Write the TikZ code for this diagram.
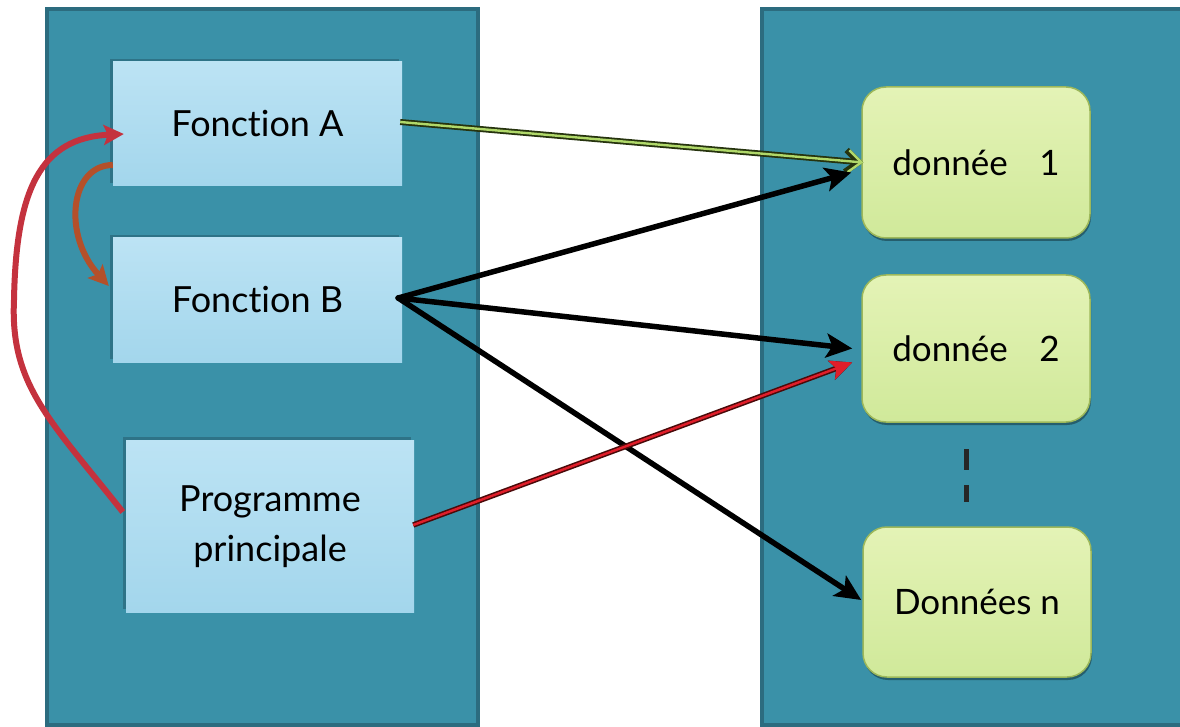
\documentclass[tikz,border=0pt]{standalone}
\usepackage{fontspec}
\setmainfont{Lato}[Ligatures={NoCommon}]
\usetikzlibrary{arrows.meta,shadows}

\definecolor{panel}{HTML}{3A91A8}
\definecolor{paneledge}{HTML}{2C6C7F}
\definecolor{fnlight}{HTML}{BCE3F4}
\definecolor{fndark}{HTML}{A3D6EC}
\definecolor{datalight}{HTML}{E4F3B6}
\definecolor{datadark}{HTML}{D0E99A}
\definecolor{dataedge}{HTML}{9DB85A}
\definecolor{callred}{HTML}{C4323E}
\definecolor{callbrown}{HTML}{B4502A}
\definecolor{linkgreen}{HTML}{B0D86A}
\definecolor{linkdark}{HTML}{26330E}
\definecolor{redcore}{HTML}{E01E2A}
\definecolor{reddark}{HTML}{4A0A0A}

\begin{document}
\begin{tikzpicture}[x=1pt,y=-1pt,
  panelbox/.style={draw=paneledge, line width=4pt, fill=panel, inner sep=0pt},
  fnbox/.style={top color=fnlight, bottom color=fndark, draw=none,
    minimum width=289pt, minimum height=124pt, inner sep=0pt, align=center,
    font=\fontsize{36}{50}\selectfont,
    drop shadow={shadow xshift=-3pt, shadow yshift=3pt, fill=paneledge, opacity=0.8}},
  databox/.style={top color=datalight, bottom color=datadark, draw=dataedge,
    line width=1.5pt, rounded corners=24pt,
    minimum width=228pt, minimum height=150pt, inner sep=0pt,
    font=\fontsize{35}{40}\selectfont,
    drop shadow={shadow xshift=1pt, shadow yshift=-3pt, fill=black, opacity=0.35}},
  fanlink/.style={draw=black, line width=5.5pt, line cap=round,
    -{Stealth[length=26pt,width=24pt,inset=6pt]}},
  greenlink/.style={draw=linkgreen, line width=2.4pt,
    -{Straight Barb[length=13pt,width=22pt]},
    preaction={draw=linkdark, line width=6pt,
      -{Straight Barb[length=13pt,width=22pt]}}},
  redlink/.style={draw=redcore, line width=2.4pt,
    -{Stealth[length=22pt,width=20pt,inset=5pt]},
    preaction={draw=reddark, line width=5.5pt,
      -{Stealth[length=22pt,width=20pt,inset=5pt]}}},
  callcurve/.style={draw=callred, line width=6pt,
    -{Stealth[length=20pt,width=20pt,inset=4pt]}},
  nextcurve/.style={draw=callbrown, line width=6pt,
    -{Stealth[length=20pt,width=20pt,inset=4pt]}},
  gapmark/.style={draw=black!85, line width=5pt}
]
\useasboundingbox (0,0) rectangle (1180,727);
\fill[white] (0,0) rectangle (1180,727);
\clip (0,0) rectangle (1180,727);

% the two memory areas
\node[panelbox, minimum width=431pt, minimum height=716pt] (left) at (262.5,367) {};
\node[panelbox, minimum width=440pt, minimum height=716pt] (right) at (982,367) {};

% functions and main program
\node[fnbox] (fa) at (257.5,124) {\raisebox{-4pt}{Fonction A}};
\node[fnbox] (fb) at (257.5,300) {\raisebox{-2pt}{Fonction B}};
\node[fnbox, minimum width=288pt, minimum height=172pt] (pp) at (270,526)
  {\raisebox{-6pt}{\begin{tabular}{@{}c@{}}Programme\\principale\end{tabular}}};

% data blocks
\node[databox, minimum height=151pt] (d1) at (976,162.5) {\raisebox{-5pt}{donnée\hspace{0.9em}1}};
\node[databox, minimum height=147pt] (d2) at (976,348.5) {\raisebox{-6pt}{donnée\hspace{0.9em}2}};
\node[databox] (dn) at (977,602) {Données n};

% ellipsis between the data blocks
\coordinate (g1) at (966,449);
\coordinate (g2) at (966,470);
\coordinate (g3) at (966,485);
\coordinate (g4) at (966,502);
\draw[gapmark] (g1) -- (g2);
\draw[gapmark] (g3) -- (g4);

% accesses from the functions to the data
\draw[greenlink] ([shift={(-2,-2)}]fa.east) -- ([shift={(2,0)}]d1.west);
\draw[fanlink] ([shift={(-4,-2)}]fb.east) -- ([shift={(-10,10)}]d1.west);
\draw[fanlink] ([shift={(-4,-2)}]fb.east) -- ([shift={(-9,0)}]d2.west);
\draw[fanlink] ([shift={(-4,-2)}]fb.east) -- ([shift={(-1,-2)}]dn.west);
\draw[redlink] ([shift={(-1,-1)}]pp.east) -- ([shift={(-9,14)}]d2.west);

% calls between the functions
\draw[callcurve] ([shift={(-3,-14)}]pp.west)
  .. controls (50,420) and (10,385) .. (14,300)
  .. controls (16,190) and (40,138) .. ([shift={(11,10)}]fa.west);
\draw[nextcurve] ([shift={(0,41)}]fa.west)
  .. controls (70,165) and (62,235) .. ([shift={(-4,-14)}]fb.west);
\end{tikzpicture}
\end{document}
